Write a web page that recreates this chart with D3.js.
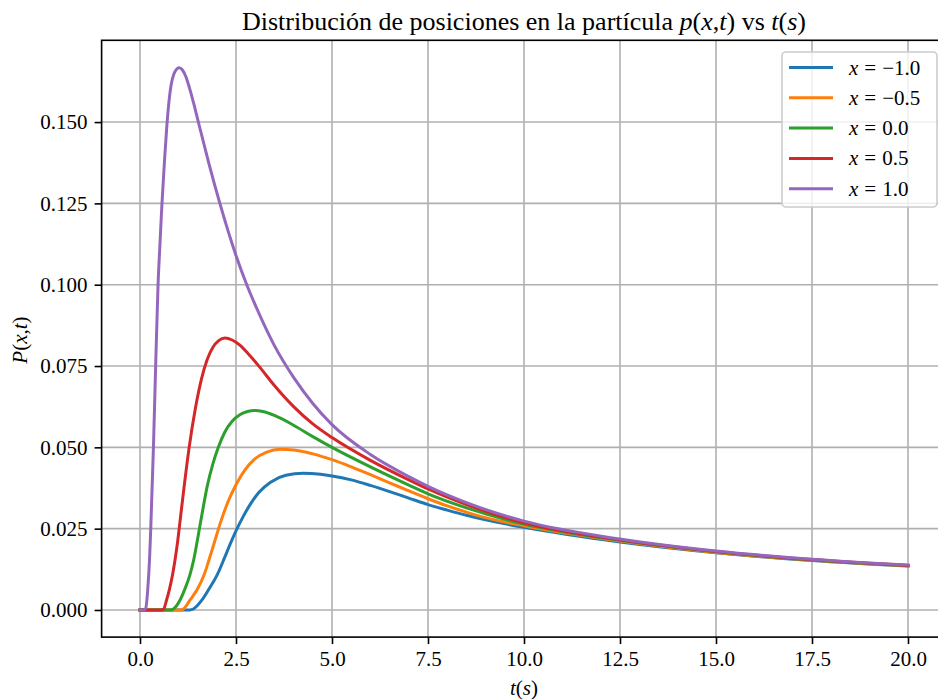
<!DOCTYPE html>
<html>
<head>
<meta charset="utf-8">
<script src="https://cdn.jsdelivr.net/npm/d3@7"></script>
<style>
  body { margin: 0; background: #fff; }
  svg { display: block; }
  text { font-family: "Liberation Serif", "Times New Roman", "DejaVu Serif", serif; fill: #000; }
</style>
</head>
<body>
<svg id="chart" width="938" height="700"></svg>
<script>
// ---- data ----
const seriesNames = ["x = −1.0", "x = −0.5", "x = 0.0", "x = 0.5", "x = 1.0"];
const seriesColors = ["#1f77b4", "#ff7f0e", "#2ca02c", "#d62728", "#9467bd"];

const tMinus10 = [0, 1.3, 1.39, 1.61, 1.8, 2.01, 2.2, 2.34, 2.5, 2.7, 2.9, 3.1, 3.4, 3.8, 4.25, 4.7, 5.0, 5.5, 6.0, 6.5, 7.0, 7.5, 8.0, 8.5, 9.0, 10, 12.5, 15, 17.5, 20];
const pMinus10 = [0, 0, 0.0003, 0.003, 0.0065, 0.0108, 0.0160, 0.0200, 0.0243, 0.0290, 0.0330, 0.0362, 0.0393, 0.0414, 0.0420, 0.0417, 0.0412, 0.0400, 0.0383, 0.0364, 0.0344, 0.0324, 0.0307, 0.0291, 0.0277, 0.0254, 0.0209, 0.0176, 0.0152, 0.0135];

const tMinus05 = [0, 1.05, 1.13, 1.30, 1.5, 1.67, 1.8, 1.93, 2.1, 2.3, 2.5, 2.73, 3.0, 3.3, 3.65, 4.0, 4.5, 5.0, 5.5, 6.0, 6.5, 7.0, 7.5, 8.0, 8.5, 9.0, 10, 12.5, 15, 17.5, 20];
const pMinus05 = [0, 0, 0.0003, 0.003, 0.0065, 0.0108, 0.0155, 0.0205, 0.0270, 0.0335, 0.0385, 0.0430, 0.0465, 0.0485, 0.0494, 0.0492, 0.0480, 0.0462, 0.0440, 0.0416, 0.0391, 0.0366, 0.0342, 0.0320, 0.0301, 0.0284, 0.0259, 0.0212, 0.0177, 0.0153, 0.0136];

const tZero = [0, 0.8, 0.87, 1.04, 1.17, 1.3, 1.4, 1.48, 1.54, 1.65, 1.75, 1.9, 2.04, 2.2, 2.4, 2.6, 2.8, 2.99, 3.2, 3.5, 4.0, 4.5, 5.0, 6.0, 7.0, 7.5, 8.5, 10, 12.5, 15, 17.5, 20];
const pZero = [0, 0, 0.0003, 0.003, 0.0065, 0.0108, 0.0155, 0.0205, 0.0245, 0.0318, 0.0380, 0.0450, 0.0500, 0.0545, 0.0580, 0.0600, 0.0610, 0.0613, 0.0610, 0.0598, 0.0568, 0.0533, 0.0500, 0.0440, 0.0384, 0.0357, 0.0314, 0.0264, 0.0214, 0.0179, 0.0154, 0.0137];

const tPlus05 = [0, 0.55, 0.61, 0.69, 0.77, 0.85, 0.92, 0.98, 1.03, 1.15, 1.28, 1.45, 1.6, 1.75, 1.9, 2.05, 2.21, 2.4, 2.6, 2.8, 3.08, 3.5, 4.0, 4.5, 5.0, 6.0, 7.0, 7.5, 8.5, 10, 12.5, 15, 17.5, 20];
const pPlus05 = [0, 0, 0.0002, 0.003, 0.0065, 0.011, 0.016, 0.021, 0.026, 0.038, 0.050, 0.0625, 0.0710, 0.0770, 0.0808, 0.0828, 0.0836, 0.0830, 0.0814, 0.0790, 0.0752, 0.0690, 0.0625, 0.0572, 0.0530, 0.0460, 0.0400, 0.0372, 0.0324, 0.0268, 0.0216, 0.0180, 0.0155, 0.0137];

const tPlus10 = [0, 0.1, 0.15, 0.2, 0.25, 0.28, 0.35, 0.41, 0.47, 0.52, 0.57, 0.64, 0.70, 0.77, 0.82, 0.88, 0.95, 1.02, 1.1, 1.2, 1.28, 1.4, 1.52, 1.8, 2.08, 2.5, 2.78, 3.0, 3.49, 4.0, 4.5, 5.0, 6.0, 7.0, 7.5, 8.5, 10, 12.5, 15, 17.5, 20];
const pPlus10 = [0, 0, 0.0005, 0.006, 0.016, 0.025, 0.050, 0.076, 0.100, 0.1125, 0.1245, 0.1385, 0.1490, 0.1580, 0.1620, 0.1647, 0.1662, 0.1667, 0.1661, 0.1638, 0.1608, 0.1557, 0.1500, 0.1370, 0.1250, 0.1090, 0.1000, 0.0938, 0.0815, 0.0715, 0.0635, 0.0570, 0.0478, 0.0410, 0.0380, 0.0330, 0.0273, 0.0218, 0.0181, 0.0156, 0.0138];

const xTicks = [0, 2.5, 5, 7.5, 10, 12.5, 15, 17.5, 20];
const xTickLabels = ["0.0", "2.5", "5.0", "7.5", "10.0", "12.5", "15.0", "17.5", "20.0"];
const yTicks = [0, 0.025, 0.05, 0.075, 0.1, 0.125, 0.15];
const yTickLabels = ["0.000", "0.025", "0.050", "0.075", "0.100", "0.125", "0.150"];

const seriesT = [tMinus10, tMinus05, tZero, tPlus05, tPlus10];
const seriesP = [pMinus10, pMinus05, pZero, pPlus05, pPlus10];

// ---- layout ----
const svg = d3.select("#chart");
const plotLeft = 101.6, plotRight = 946.4, plotTop = 40.3, plotBottom = 637.1;
const x = d3.scaleLinear().domain([-1, 21]).range([plotLeft, plotRight]);
const y = d3.scaleLinear().domain([-0.00834, 0.17514]).range([plotBottom, plotTop]);

svg.append("rect").attr("width", 938).attr("height", 700).attr("fill", "#fff");

const clipId = "plotclip";
svg.append("clipPath").attr("id", clipId).append("rect")
  .attr("x", plotLeft).attr("y", plotTop)
  .attr("width", plotRight - plotLeft).attr("height", plotBottom - plotTop);

// grid
const grid = svg.append("g");
grid.selectAll("line.gx").data(xTicks).enter().append("line")
  .attr("x1", d => x(d)).attr("x2", d => x(d))
  .attr("y1", plotTop).attr("y2", plotBottom)
  .attr("stroke", "#b0b0b0").attr("stroke-width", 1.6);
grid.selectAll("line.gy").data(yTicks).enter().append("line")
  .attr("y1", d => y(d)).attr("y2", d => y(d))
  .attr("x1", plotLeft).attr("x2", plotRight)
  .attr("stroke", "#b0b0b0").attr("stroke-width", 1.6);

// lines
const line = d3.line()
  .x(d => x(d[0])).y(d => y(d[1]))
  .curve(d3.curveMonotoneX);
const lines = svg.append("g").attr("clip-path", `url(#${clipId})`);
seriesT.forEach((ts, i) => {
  const pts = ts.map((t, j) => [t, seriesP[i][j]]);
  lines.append("path").datum(pts)
    .attr("d", line)
    .attr("fill", "none")
    .attr("stroke", seriesColors[i])
    .attr("stroke-width", 3)
    .attr("stroke-linejoin", "round")
    .attr("stroke-linecap", "square");
});

// axes
const xAxis = d3.axisBottom(x).tickValues(xTicks)
  .tickFormat((d, i) => xTickLabels[i]).tickSize(7).tickPadding(7);
const yAxis = d3.axisLeft(y).tickValues(yTicks)
  .tickFormat((d, i) => yTickLabels[i]).tickSize(7).tickPadding(7);

const gx = svg.append("g").attr("transform", `translate(0,${plotBottom})`).call(xAxis);
const gy = svg.append("g").attr("transform", `translate(${plotLeft},0)`).call(yAxis);
[gx, gy].forEach(g => {
  g.select(".domain").remove();
  g.selectAll(".tick line").attr("stroke", "#000").attr("stroke-width", 1.6);
  g.selectAll(".tick text").attr("font-size", 21)
    .attr("font-family", '"Liberation Serif", "Times New Roman", serif').attr("fill", "#000");
});
gx.selectAll(".tick text").attr("dy", "0.72em");

// spines
svg.append("rect")
  .attr("x", plotLeft).attr("y", plotTop)
  .attr("width", plotRight - plotLeft).attr("height", plotBottom - plotTop)
  .attr("fill", "none").attr("stroke", "#000").attr("stroke-width", 1.6);

// rich text helper: parts = [[string, italic, dx]]
function rich(sel, parts) {
  parts.forEach(([s, it, dx]) => {
    const ts = sel.append("tspan").text(s).attr("font-style", it ? "italic" : "normal");
    if (dx) ts.attr("dx", dx);
  });
  return sel;
}

// title
rich(svg.append("text").attr("x", (plotLeft + plotRight) / 2).attr("y", 30)
  .attr("text-anchor", "middle").attr("font-size", 26),
  [["Distribución de posiciones en la partícula ", false], ["p", true], ["(", false], ["x", true], [",", false], ["t", true], [")", false],
   [" vs ", false], ["t", true], ["(", false], ["s", true], [")", false]]);

// x label
rich(svg.append("text").attr("x", (plotLeft + plotRight) / 2).attr("y", 695)
  .attr("text-anchor", "middle").attr("font-size", 21),
  [["t", true], ["(", false], ["s", true], [")", false]]);

// y label
rich(svg.append("text").attr("transform", "translate(27,340) rotate(-90)")
  .attr("text-anchor", "middle").attr("font-size", 21),
  [["P", true], ["(", false], ["x", true], [",", false], ["t", true], [")", false]]);

// legend
const legX = 782, legY = 52, legW = 155, legH = 155;
const leg = svg.append("g");
leg.append("rect").attr("x", legX).attr("y", legY).attr("width", legW).attr("height", legH)
  .attr("rx", 4).attr("ry", 4)
  .attr("fill", "#fff").attr("fill-opacity", 0.8)
  .attr("stroke", "#cccccc").attr("stroke-width", 1.6);
seriesNames.forEach((name, i) => {
  const cy = 67.5 + i * 30.3;
  leg.append("line").attr("x1", legX + 7).attr("x2", legX + 51)
    .attr("y1", cy).attr("y2", cy)
    .attr("stroke", seriesColors[i]).attr("stroke-width", 3);
  const parts = name.split(" = ");
  rich(leg.append("text").attr("x", legX + 67).attr("y", cy + 7).attr("font-size", 21),
    [[parts[0], true], ["=", false, 6], [parts[1], false, 6]]);
});
</script>
</body>
</html>
